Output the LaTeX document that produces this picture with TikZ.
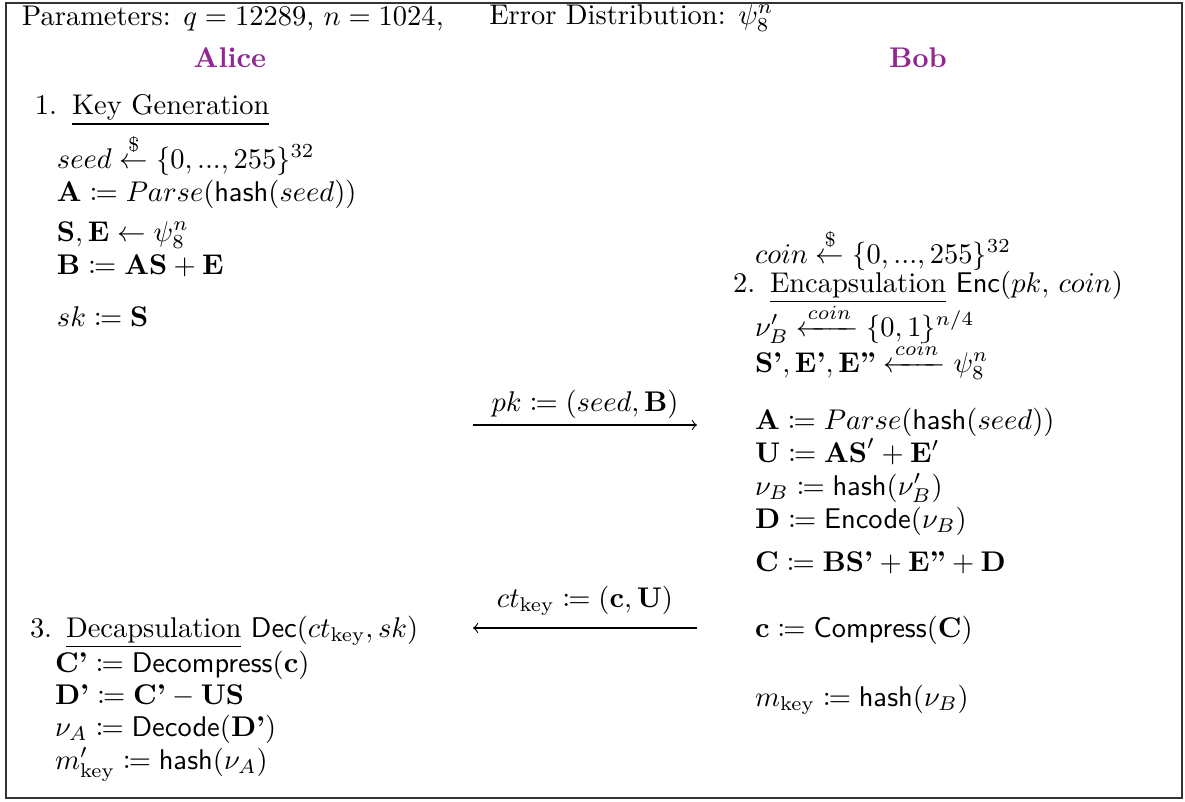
\documentclass[tikz,border=0pt]{standalone}
\usepackage{amsmath,mathtools}
\usepackage{xcolor}
\definecolor{abcol}{RGB}{146,38,146}
\begin{document}
\begin{tikzpicture}[x=0.351pt,y=-0.351pt,
  txt/.style={anchor=mid west,inner sep=0pt,outer sep=0pt},
  party/.style={anchor=mid,inner sep=0pt,font=\bfseries,text=abcol},
  msg/.style={->,line width=0.4pt},
  lab/.style={anchor=mid,inner sep=0pt}]
\useasboundingbox (0,0) rectangle (1185,801);
\draw[line width=0.6pt,black!80] (6,3) rectangle (1182,798);
% header
\node[txt] (params) at (22,19) {Parameters: $q = 12289$, $n = 1024$,};
\node[txt] (err) at ([xshift=16pt]params.east) {Error Distribution: $\psi_8^n$};
\node[party] (alice) at (230,61) {Alice};
\node[party] (bob) at (918,61) {Bob};
% Alice: key generation
\node[txt] (l1) at (35,108) {1.};
\node[txt] (h1) at (72,108) {\underline{Key Generation}};
\node[txt] (a1) at (57,162) {$seed \stackrel{\$}{\leftarrow} \{0,...,255\}^{32}$};
\node[txt] (a2) at (57,195) {$\mathbf{A} \coloneqq Parse(\mathsf{hash}(seed))$};
\node[txt] (a3) at (57,235) {$\mathbf{S}, \mathbf{E} \leftarrow \psi_8^n$};
\node[txt] (a4) at (57,268) {$\mathbf{B} \coloneqq \mathbf{AS} + \mathbf{E}$};
\node[txt] (a5) at (57,320) {$sk \coloneqq \mathbf{S}$};
% Bob: encapsulation
\node[txt] (b0) at (755,257) {$coin \stackrel{\$}{\leftarrow} \{0,...,255\}^{32}$};
\node[txt] (l2) at (733,286) {2.};
\node[txt] (h2) at (770,286) {\underline{Encapsulation} $\mathsf{Enc}(pk,\, coin)$};
\node[txt] (b1) at (755,330) {$\nu_B' \xleftarrow{coin} \{0,1\}^{n/4}$};
\node[txt] (b2) at (755,366) {$\textbf{S'}, \textbf{E'}, \textbf{E''} \xleftarrow{coin} \psi_8^n$};
\node[txt] (b3) at (755,423) {$\mathbf{A} \coloneqq Parse(\mathsf{hash}(seed))$};
\node[txt] (b4) at (755,456) {$\mathbf{U} \coloneqq \mathbf{AS}' + \mathbf{E}'$};
\node[txt] (b5) at (755,489) {$\nu_B \coloneqq \mathsf{hash}(\nu_B')$};
\node[txt] (b6) at (755,522) {$\mathbf{D} \coloneqq \mathsf{Encode}(\nu_B)$};
\node[txt] (b7) at (755,565) {$\mathbf{C} \coloneqq \mathbf{B}\textbf{S'} + \textbf{E''} + \mathbf{D}$};
\node[txt] (b8) at (755,631) {$\mathbf{c} \coloneqq \mathsf{Compress}(\mathbf{C})$};
\node[txt] (b9) at (755,700) {$m_{\text{key}} \coloneqq \mathsf{hash}(\nu_B)$};
% Alice: decapsulation
\node[txt] (l3) at (30,631) {3.};
\node[txt] (h3) at (66,631) {\underline{Decapsulation} $\mathsf{Dec}(ct_{\text{key}}, sk)$};
\node[txt] (c1) at (55,666) {$\textbf{C'} \coloneqq \mathsf{Decompress}(\mathbf{c})$};
\node[txt] (c2) at (55,698) {$\textbf{D'} \coloneqq \textbf{C'} - \mathbf{US}$};
\node[txt] (c3) at (55,730) {$\nu_A \coloneqq \mathsf{Decode}(\textbf{D'})$};
\node[txt] (c4) at (55,763) {$m_{\text{key}}' \coloneqq \mathsf{hash}(\nu_A)$};
% messages
\coordinate (pkL) at (473,425);
\coordinate (pkR) at (697,425);
\draw[msg] (pkL) -- (pkR);
\node[lab] (pklab) at (585,405) {$pk \coloneqq (seed, \mathbf{B})$};
\coordinate (ctL) at (473,628);
\coordinate (ctR) at (697,628);
\draw[msg] (ctR) -- (ctL);
\node[lab] (ctlab) at (585,601) {$ct_{\text{key}} \coloneqq (\mathbf{c}, \mathbf{U})$};
\end{tikzpicture}
\end{document}
